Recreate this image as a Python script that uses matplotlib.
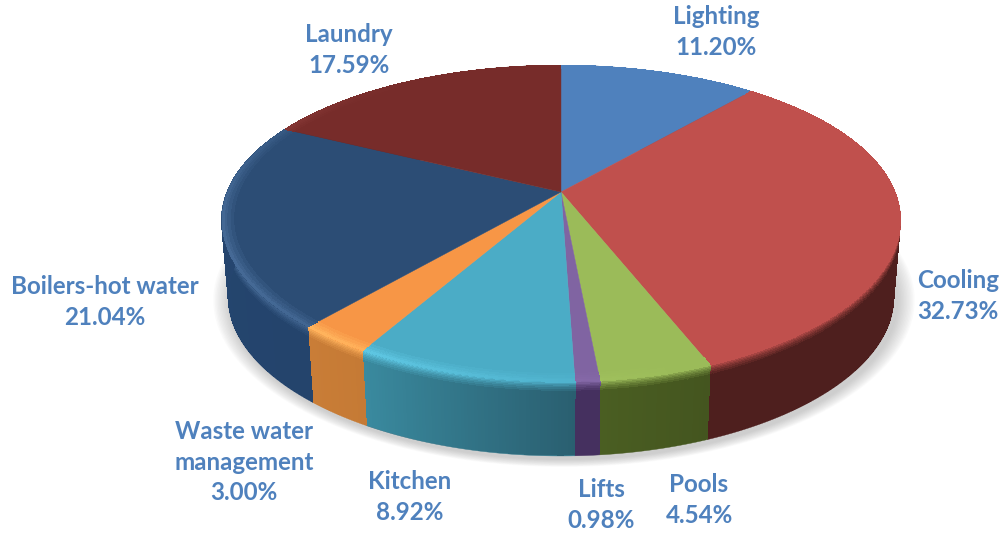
import numpy as np
import matplotlib
matplotlib.use("Agg")
import matplotlib.pyplot as plt
from matplotlib.collections import PolyCollection
from matplotlib.colors import to_rgb

categories = ["Lighting", "Cooling", "Pools", "Lifts", "Kitchen",
              "Waste water\nmanagement", "Boilers-hot water", "Laundry"]
values = [11.20, 32.73, 4.54, 0.98, 8.92, 3.00, 21.04, 17.59]

top_colors = ["#4f81bd", "#c0504d", "#9bbb59", "#8064a2", "#4bacc6", "#f79646", "#2c4d75", "#772c2a"]
side_start = ["#2f4d71", "#4e1f1e", "#44551f", "#45305f", "#2a5f70", "#c57a35", "#24446c", "#4a1b1a"]
side_end = ["#2f4d71", "#4e1f1e", "#4a5e22", "#45305f", "#3a8a9f", "#c97d37", "#254670", "#4a1b1a"]
label_pos = [(716, 32), (958, 296), (699, 500), (601, 505), (410, 497),
             (244, 462), (105, 302), (349, 50)]
TEXT = "#4f81bd"

CX, CY, B, A, K, KX = 561, 192, 334, 152, 0.199, 0.18
DEPTH, SHRINK = 78, 0.98


def project(theta, r=1.0, h=0.0):
    """theta clockwise from the top, r radial fraction, h depth in pixels"""
    u, v = r * np.sin(theta), r * np.cos(theta)
    t = h / DEPTH
    s = 1 - (1 - SHRINK) * t
    return np.column_stack([CX + s * B * u / (1 + KX * v), CY + h - s * A * v / (1 + K * v)])


def mix(a, b, t):
    return tuple((1 - t) * np.array(a) + t * np.array(b))


def rim_colour(top, mid):
    s = max(0.0, np.cos(mid - np.radians(245))) ** 2 if mid > np.radians(165) else 0
    boosted = np.clip(np.array(top) * (1 + 0.2 * s), 0, 1)
    return mix(boosted, (1, 1, 1), 0.08 * s)


fig = plt.figure(figsize=(10.04, 5.35), dpi=100)
ax = fig.add_axes([0, 0, 1, 1])
ax.set_xlim(0, 1004)
ax.set_ylim(535, 0)
ax.axis("off")

# soft shadow below the pie
full = np.linspace(0, 2 * np.pi, 361)
for i in range(12, 0, -1):
    p = project(full, 1.0, DEPTH)
    c = np.array([CX, CY + DEPTH + 40])
    p = c + (p - c) * (1 + i * 0.0045) + np.array([3, 3])
    ax.fill(p[:, 0], p[:, 1], color="#808080", alpha=0.035, lw=0, zorder=1)

fractions = np.array(values) / sum(values)
edges = np.concatenate([[0], np.cumsum(fractions)]) * 2 * np.pi

# side wall: a solid underlay per slice, so no seams between the strips show
for i in range(len(values)):
    th = np.linspace(edges[i], edges[i + 1], 200)
    band = np.vstack([project(th, 1, 0), project(th, 1, DEPTH)[::-1]])
    col = mix(to_rgb(side_start[i]), to_rgb(side_end[i]), 0.5)
    ax.fill(band[:, 0], band[:, 1], facecolor=col, edgecolor=col, lw=0.3, zorder=2)

polys, cols = [], []
heights = np.array([0, 1.5, 3, 4.5, 6, 8, 10, 13, DEPTH - 1])
for i in range(len(values)):
    a0, a1 = edges[i], edges[i + 1]
    n = max(3, int(np.degrees(a1 - a0) * 2))
    th = np.linspace(a0, a1, n + 1)
    top = to_rgb(top_colors[i])
    for j in range(n):
        mid = (th[j] + th[j + 1]) / 2
        side = mix(to_rgb(side_start[i]), to_rgb(side_end[i]), (j + .5) / n)
        rim = rim_colour(top, mid)
        for k in range(len(heights) - 1):
            t = min(1.0, k / 6.0)
            col = mix(rim, side, t ** 0.8) if k < 7 else side
            p0 = project(th[j:j + 2], 1, heights[k])
            p1 = project(th[j:j + 2], 1, heights[k + 1])
            polys.append(np.vstack([p0, p1[::-1]]))
            cols.append(col)
ax.add_collection(PolyCollection(polys, facecolors=cols, edgecolors="none", linewidths=0,
                                 antialiaseds=False, zorder=2.5))

# top surface
for i in range(len(values)):
    th = np.linspace(edges[i], edges[i + 1], max(4, int(np.degrees(edges[i + 1] - edges[i]) * 2)))
    rim = project(th, 1.0)
    poly = np.vstack([[CX, CY], rim])
    ax.fill(poly[:, 0], poly[:, 1], facecolor=top_colors[i], edgecolor=top_colors[i], lw=0.3, zorder=3)

# bevel highlight close to the rim
polys, cols = [], []
radii = [0.965, 0.975, 0.985, 0.992, 0.998]
for i in range(len(values)):
    n = max(3, int(np.degrees(edges[i + 1] - edges[i]) * 2))
    th = np.linspace(edges[i], edges[i + 1], n + 1)
    top = to_rgb(top_colors[i])
    for j in range(n):
        mid = (th[j] + th[j + 1]) / 2
        rimc = rim_colour(top, mid)
        for k in range(len(radii) - 1):
            col = mix(top, rimc, (k + 1) / (len(radii) - 1))
            p0 = project(th[j:j + 2], radii[k])
            p1 = project(th[j:j + 2], radii[k + 1])
            polys.append(np.vstack([p0, p1[::-1]]))
            cols.append(col)
ax.add_collection(PolyCollection(polys, facecolors=cols, edgecolors="none", linewidths=0,
                                 antialiaseds=False, zorder=4))

for name, val, (x, y) in zip(categories, values, label_pos):
    ax.text(x, y, f"{name}\n{val:.2f}%", ha="center", va="center", color=TEXT,
            family="Lato", fontweight="bold", fontsize=17.4, linespacing=1.4, zorder=5)

fig.savefig("out.png", dpi=100)
